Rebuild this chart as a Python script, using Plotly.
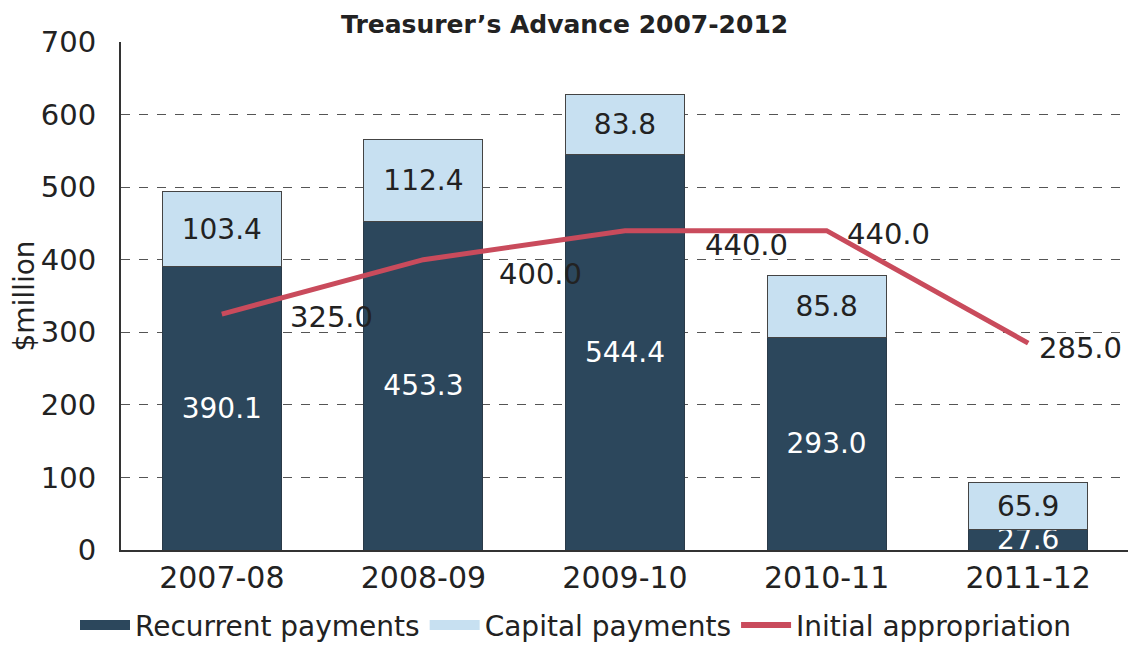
import plotly.graph_objects as go

categories = ["2007-08", "2008-09", "2009-10", "2010-11", "2011-12"]
recurrent = [390.1, 453.3, 544.4, 293.0, 27.6]
capital = [103.4, 112.4, 83.8, 85.8, 65.9]
appropriation = [325.0, 400.0, 440.0, 440.0, 285.0]
y_ticks = [0, 100, 200, 300, 400, 500, 600, 700]

FONT = "DejaVu Sans"
DARK = "#2c475c"
LIGHT = "#c7e0f1"
RED = "#c94b5c"
TXT = "#222222"

fig = go.Figure()
fig.add_trace(go.Bar(
    x=categories, y=recurrent, name="Recurrent payments", showlegend=False,
    marker=dict(color=DARK, line=dict(color="#2a3a48", width=1)),
    text=[f"{v:.1f}" for v in recurrent], textposition="inside",
    insidetextanchor="middle", constraintext="none",
    textfont=dict(family=FONT, size=28, color="white"),
))
fig.add_trace(go.Bar(
    x=categories, y=capital, name="Capital payments", showlegend=False,
    marker=dict(color=LIGHT, line=dict(color="#444444", width=1)),
    text=[f"{v:.1f}" for v in capital], textposition="inside",
    insidetextanchor="middle", constraintext="none",
    textfont=dict(family=FONT, size=28, color=TXT),
))
fig.add_trace(go.Scatter(
    x=categories, y=appropriation, name="Initial appropriation", showlegend=False,
    mode="lines", line=dict(color=RED, width=5),
))

# legend entries (rectangular swatches like the original)
for name, color, w in [("Recurrent payments", DARK, 15),
                       ("Capital payments", LIGHT, 15),
                       ("Initial appropriation", RED, 6)]:
    fig.add_trace(go.Scatter(x=[None], y=[None], mode="lines", name=name,
                             line=dict(color=color, width=w), showlegend=True))

# data labels for the line, offset as in the original
xshifts = [110, 117, 121, 62, 52]
yshifts = [-3, -14, -14, -3, -5]
for c, v, dx, dy in zip(categories, appropriation, xshifts, yshifts):
    fig.add_annotation(x=c, y=v, text=f"{v:.1f}", showarrow=False,
                       xshift=dx, yshift=dy,
                       font=dict(family=FONT, size=29, color=TXT))

fig.update_layout(
    barmode="stack", bargap=0.41,
    width=1136, height=645,
    paper_bgcolor="white", plot_bgcolor="white",
    margin=dict(l=113, r=15, t=34, b=103, autoexpand=False),
    title=dict(text="<b>Treasurer’s Advance 2007-2012</b>", x=0.49, xanchor="center",
               y=0.975, yanchor="middle",
               font=dict(family=FONT, size=25, color=TXT)),
    font=dict(family=FONT, color=TXT),
    legend=dict(orientation="h", xref="container", x=0.5, xanchor="center",
                yref="container", y=0.004, yanchor="bottom",
                font=dict(family=FONT, size=28, color=TXT),
                traceorder="normal", itemwidth=50),
    showlegend=True,
)
fig.update_yaxes(
    range=[0, 700], tickvals=y_ticks, ticks="",
    tickfont=dict(family=FONT, size=29, color=TXT),
    ticklabelstandoff=17,
    showgrid=True, gridcolor="#555555", griddash="dash", gridwidth=1,
    showline=True, linecolor="#333333", linewidth=2,
    zeroline=False,
    title=dict(text="$million", font=dict(family=FONT, size=28, color=TXT), standoff=8),
)
fig.update_xaxes(
    type="category",
    tickfont=dict(family=FONT, size=30, color=TXT),
    showline=True, linecolor="#333333", linewidth=2, ticks="",
)

fig.write_html("out.html")
